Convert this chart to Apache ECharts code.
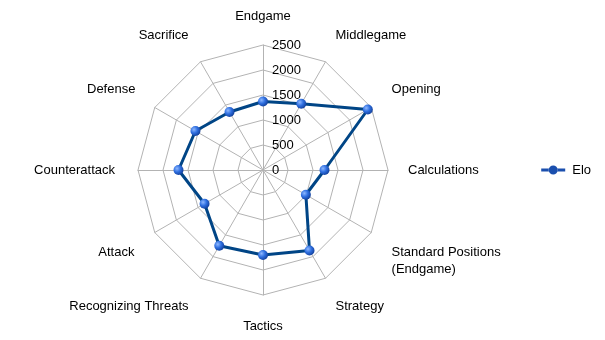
<!DOCTYPE html>
<html><head><meta charset="utf-8">
<script src="https://cdn.jsdelivr.net/npm/echarts@6/dist/echarts.min.js"></script>
<style>html,body{margin:0;padding:0;background:#fff}#c{width:605px;height:340px}</style>
</head><body><div id="c"></div>
<script>
const categories = ['Endgame','Middlegame','Opening','Calculations','Standard Positions\n(Endgame)','Strategy','Tactics','Recognizing Threats','Attack','Counterattack','Defense','Sacrifice'];
const eloValues = [1370, 1530, 2420, 1230, 990, 1860, 1700, 1750, 1350, 1690, 1560, 1340];
const seriesName = 'Elo';
const axisMax = 2500;
const axisStep = 500;

// label nudges (style only): [dx, dy] in px, per category in original order
const nameNudge = [[0,0],[0,-9],[3,-8],[0,0],[3,18],[0,11],[0,3],[-2,11],[-3,10],[-3,0],[-2,-8],[-2,-9]];

// ECharts radar runs counter-clockwise; reorder so the categories run clockwise like the reference
const order = [0].concat(categories.map((_, i) => i).slice(1).reverse());
const cats = order.map(i => categories[i]);
const vals = order.map(i => eloValues[i]);

const baseFont = {fontSize:13, color:'#000', lineHeight:17, fontFamily:'Liberation Sans, Arial, sans-serif'};
const rich = {};
const nameKey = {};
categories.forEach((c, i) => {
  const [dx, dy] = nameNudge[i];
  const lines = c.split('\n');
  const key = 'n' + i;
  if (lines.length === 1) {
    let pt = 0, pb = 0, pl = 0, pr = 0;
    if (dy > 0) pt = 2 * dy;
    if (dy < 0) pb = -2 * dy;
    if (dx > 0) pl = dx;
    if (dx < 0) pr = -dx;
    rich[key] = Object.assign({padding:[pt, pr, pb, pl]}, baseFont);
    nameKey[c] = '{' + key + '|' + c + '}';
  } else {
    rich[key] = Object.assign({padding:[0, dx < 0 ? -dx : 0, 0, dx > 0 ? dx : 0]}, baseFont);
    rich[key + 's'] = {height: Math.abs(2 * dy), lineHeight: Math.abs(2 * dy), fontSize: 1};
    const body = lines.map(ln => '{' + key + '|' + ln + '}');
    if (dy > 0) body.unshift('{' + key + 's| }');
    else if (dy < 0) body.push('{' + key + 's| }');
    nameKey[c] = body.join('\n');
  }
});

const chart = echarts.init(document.getElementById('c'), null, {renderer:'canvas'});
const sphere = new echarts.graphic.RadialGradient(0.35, 0.35, 0.7, [
  {offset:0, color:'#8fb8ff'},
  {offset:0.5, color:'#2f6fe0'},
  {offset:1, color:'#123f9a'}
]);
chart.setOption({
  animation:false,
  textStyle:{fontFamily:'Liberation Sans, Arial, sans-serif'},
  legend:{
    right:9, top:'middle', orient:'vertical',
    itemWidth:24, itemHeight:10, itemGap:0,
    textStyle:{fontSize:13, color:'#000', fontFamily:'Liberation Sans, Arial, sans-serif', padding:[0,0,0,2]},
    data:[{name:seriesName, icon:'path://M0,3.5h7.8v3h-7.8z M16.2,3.5h7.8v3h-7.8z M7.5,5a4.5,4.5 0 1,0 9,0a4.5,4.5 0 1,0 -9,0z', itemStyle:{color:'#1a4fae'}}]
  },
  radar:{
    center:[263,170], radius:125, startAngle:90, shape:'polygon',
    splitNumber:5,
    nameGap:20,
    axisName:{color:'#000', fontSize:13, fontFamily:'Liberation Sans, Arial, sans-serif', lineHeight:17,
      formatter:(name)=>nameKey[name] || name, rich:rich},
    splitLine:{lineStyle:{color:'#b3b3b3', width:1}},
    splitArea:{show:false},
    axisLine:{lineStyle:{color:'#b3b3b3', width:1}},
    axisTick:{show:false},
    axisLabel:{show:false},
    indicator: cats.map((c,i)=> i===0 ?
      {name:c, min:0, max:axisMax, interval:axisStep, axisLabel:{show:true, color:'#000', fontSize:13, margin:-9, align:'left', verticalAlign:'middle', showMinLabel:true, showMaxLabel:true, formatter:v=>String(v)}} :
      {name:c, min:0, max:axisMax, interval:axisStep})
  },
  series:[{
    type:'radar', name:seriesName,
    symbol:'circle', symbolSize:10,
    lineStyle:{color:'#004586', width:3},
    itemStyle:{color:sphere, borderWidth:0},
    data:[{value:vals, name:seriesName}]
  }]
});
</script></body></html>
